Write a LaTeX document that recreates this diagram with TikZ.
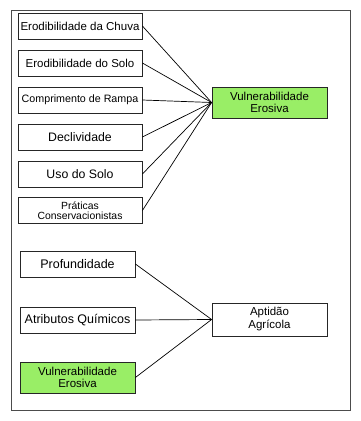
\documentclass[tikz,border=0pt]{standalone}
\usepackage{fontspec}
\setmainfont{Liberation Sans}
\usepackage{tikz}
\definecolor{verdeclaro}{RGB}{153,238,102}
\tikzset{
  caixa/.style={draw=black!85, line width=0.8pt, fill=white, inner sep=0pt, align=center,
    minimum height=26pt, font=\fontsize{11.5}{11}\selectfont},
  largo/.style={minimum width=124pt},
  medio/.style={minimum width=115pt},
  verde/.style={fill=verdeclaro},
  liga/.style={black, line width=0.7pt}
}
\begin{document}
\begin{tikzpicture}[x=1pt, y=-1pt]
    \useasboundingbox (0,0) rectangle (361,421);
    \draw [black!70, line width=0.9pt] (11,10) rectangle (350,410);

    \node[caixa, largo] (chuva) at (80,26) {Erodibilidade da Chuva};
    \node[caixa, largo] (solo) at (80,63) {Erodibilidade do Solo};
    \node[caixa, largo, font=\fontsize{10.7}{11}\selectfont] (rampa) at (80,100) {Comprimento de Rampa};
    \node[caixa, largo, font=\fontsize{12.3}{12}\selectfont] (decliv) at (80,137) {Declividade};
    \node[caixa, largo, font=\fontsize{12.3}{12}\selectfont] (uso) at (80,174) {Uso do Solo};
    \node[caixa, largo, font=\fontsize{10.4}{10.5}\selectfont] (praticas) at (80,210.5) {Práticas\\Conservacionistas};
    \node[caixa, medio, verde, minimum height=31pt, font=\fontsize{11.5}{12}\selectfont] (vulnA) at (269.5,102.5) {Vulnerabilidade\\Erosiva};

    \node[caixa, medio, font=\fontsize{12.5}{12}\selectfont] (profund) at (77.5,264) {Profundidade};
    \node[caixa, medio, font=\fontsize{12.5}{12}\selectfont] (atrib) at (77.5,320) {Atributos Químicos};
    \node[caixa, medio, verde, minimum height=31pt, font=\fontsize{11.5}{12.5}\selectfont] (vulnB) at (77.5,377.5) {Vulnerabilidade\\Erosiva};
    \node[caixa, medio, minimum height=33pt, font=\fontsize{11.5}{13}\selectfont] (aptidao) at (269.5,319.5) {Aptidão\\Agrícola};

    \foreach \n in {chuva, solo, rampa, decliv, uso, praticas}
      \draw [liga] (\n.east) -- (vulnA.west);
    \foreach \n in {profund, atrib, vulnB}
      \draw [liga] (\n.east) -- (aptidao.west);
  \end{tikzpicture}
\end{document}
